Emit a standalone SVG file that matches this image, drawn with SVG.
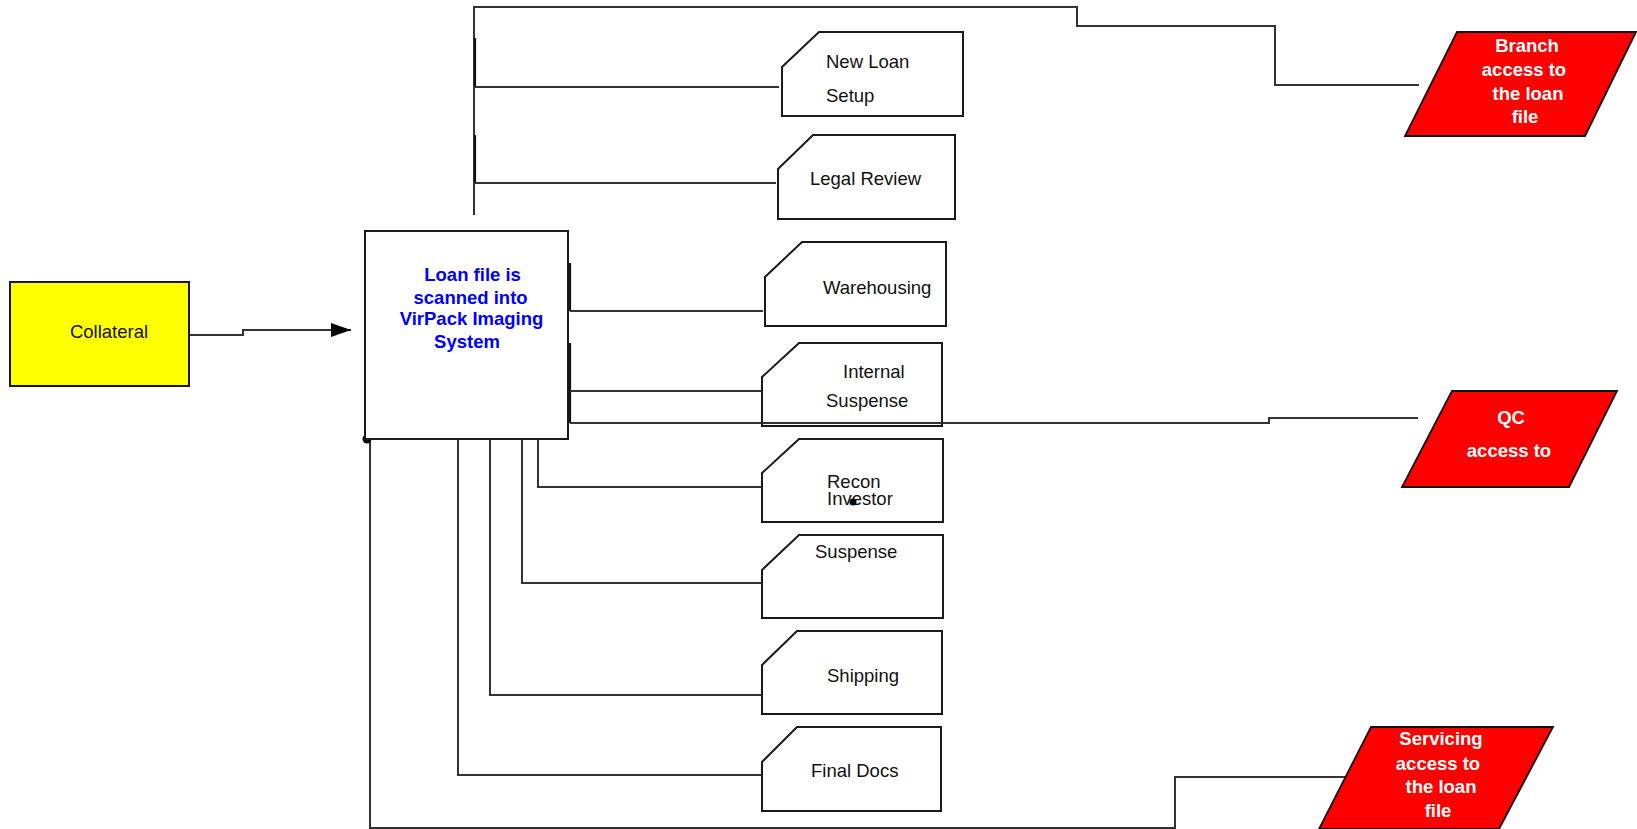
<svg xmlns="http://www.w3.org/2000/svg" width="1637" height="829" viewBox="0 0 1637 829">
<style>
.bg{fill:#ffffff}
.box{fill:#ffffff;stroke:#1a1a1a;stroke-width:2}
.yel{fill:#ffff00;stroke:#1a1a1a;stroke-width:2}
.red{fill:#ff0000;stroke:#111111;stroke-width:1.8}
.ln{fill:none;stroke:#333333;stroke-width:2}
.lnk{fill:none;stroke:#111111;stroke-width:2.2}
.t{font-family:"Liberation Sans",Arial,sans-serif;font-size:18.5px;fill:#111111}
.tw{font-family:"Liberation Sans",Arial,sans-serif;font-size:18.5px;font-weight:bold;fill:#ffffff;text-anchor:middle}
.tb{font-family:"Liberation Sans",Arial,sans-serif;font-size:18.5px;font-weight:bold;fill:#0000ff;text-anchor:middle}
</style>
<defs>
<marker id="arr" markerWidth="20" markerHeight="14" refX="20" refY="7" orient="auto" markerUnits="userSpaceOnUse">
<path d="M0,0 L20,7 L0,14 Z" fill="#000000"/>
</marker>
</defs>
<rect class="bg" x="0" y="0" width="1637" height="829"/>
<g id="connectors">
<polyline class="ln" points="474,215 474,7 1077,7 1077,26 1275,26 1275,85 1419,85"/>
<line class="lnk" x1="475" y1="38" x2="475" y2="87"/>
<line class="lnk" x1="475" y1="135" x2="475" y2="183"/>
<line class="ln" x1="474" y1="87" x2="779" y2="87"/>
<line class="ln" x1="474" y1="183" x2="776" y2="183"/>
<polyline class="ln" points="189,335 243,335 243,330 351,330" marker-end="url(#arr)"/>
<line class="lnk" x1="570" y1="263" x2="570" y2="311"/>
<line class="lnk" x1="570" y1="343" x2="570" y2="423"/>
<line class="ln" x1="570" y1="311" x2="763" y2="311"/>
<line class="ln" x1="570" y1="391" x2="762" y2="391"/>
<polyline class="ln" points="570,423 1269,423 1269,418 1418,418"/>
<polyline class="ln" points="538,439 538,487 762,487"/>
<polyline class="ln" points="522,439 522,583 762,583"/>
<polyline class="ln" points="490,439 490,695 762,695"/>
<polyline class="ln" points="458,439 458,775 762,775"/>
<polyline class="ln" points="370,439 370,828 1175,828 1175,777 1345,777"/>
<circle cx="367" cy="439" r="4.5" fill="#000000"/>
</g>
<g id="collateral">
<rect class="yel" x="10" y="282" width="179" height="104"/>
<text class="t" x="109" y="338" text-anchor="middle">Collateral</text>
</g>
<g id="scan">
<rect class="box" x="365" y="231" width="203" height="208"/>
<text class="tb" x="472.6" y="281">Loan file is</text>
<text class="tb" x="470.6" y="304">scanned into</text>
<text class="tb" x="471.5" y="325">VirPack Imaging</text>
<text class="tb" x="467" y="348">System</text>
</g>
<g id="newloan">
<path class="box" d="M782,67 L819,32 L963,32 L963,116 L782,116 Z"/>
<text class="t" x="826" y="68">New Loan</text>
<text class="t" x="826" y="102">Setup</text>
</g>
<g id="legal">
<path class="box" d="M778,169 L813,135 L955,135 L955,219 L778,219 Z"/>
<text class="t" x="810" y="185">Legal Review</text>
</g>
<g id="warehousing">
<path class="box" d="M765,277 L802,242 L946,242 L946,326 L765,326 Z"/>
<text class="t" x="823" y="294">Warehousing</text>
</g>
<g id="internal">
<path class="box" d="M762,377 L799,343 L942,343 L942,426 L762,426 Z"/>
<text class="t" x="843" y="378">Internal</text>
<text class="t" x="826" y="407">Suspense</text>
</g>
<line class="ln" x1="762" y1="423" x2="942" y2="423"/>
<g id="recon">
<path class="box" d="M762,473 L799,439 L943,439 L943,522 L762,522 Z"/>
<text class="t" x="827" y="488">Recon</text>
<text class="t" x="827" y="505">Investor</text>
<circle cx="853" cy="502" r="3.5" fill="#000000"/>
</g>
<g id="suspense">
<path class="box" d="M762,570 L799,535 L943,535 L943,618 L762,618 Z"/>
<text class="t" x="815" y="558">Suspense</text>
</g>
<g id="shipping">
<path class="box" d="M762,665 L797,631 L942,631 L942,714 L762,714 Z"/>
<text class="t" x="827" y="682">Shipping</text>
</g>
<g id="finaldocs">
<path class="box" d="M762,762 L797,727 L941,727 L941,811 L762,811 Z"/>
<text class="t" x="811" y="777">Final Docs</text>
</g>
<g id="branch">
<polygon class="red" points="1457,32 1636,32 1585,136 1405,136"/>
<text class="tw" x="1527" y="52">Branch</text>
<text class="tw" x="1524" y="75.5">access to</text>
<text class="tw" x="1528" y="99.5">the loan</text>
<text class="tw" x="1525" y="123">file</text>
</g>
<g id="qc">
<polygon class="red" points="1452,391 1617,391 1569,487 1402,487"/>
<text class="tw" x="1511" y="424">QC</text>
<text class="tw" x="1509" y="457">access to</text>
</g>
<g id="servicing">
<polygon class="red" points="1371,727 1553,727 1499,829 1319,829"/>
<text class="tw" x="1441" y="745">Servicing</text>
<text class="tw" x="1438" y="770">access to</text>
<text class="tw" x="1441" y="793">the loan</text>
<text class="tw" x="1438" y="817">file</text>
</g>
</svg>
